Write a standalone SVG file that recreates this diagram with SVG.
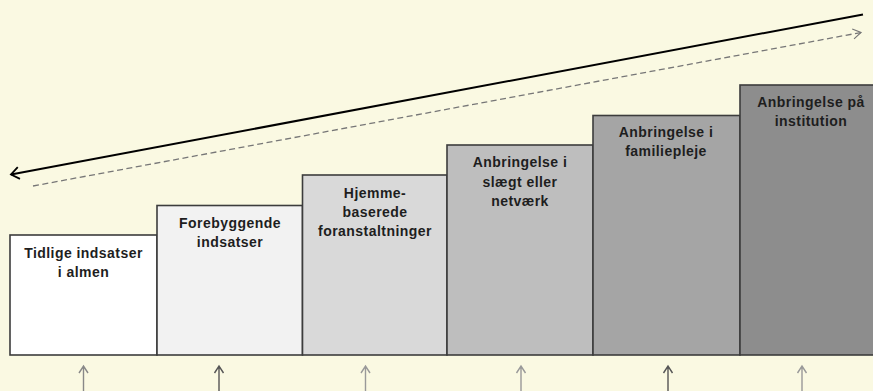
<svg xmlns="http://www.w3.org/2000/svg" width="873" height="391" viewBox="0 0 873 391">
<defs>
<style>
.box{stroke:#3c3c3c;stroke-width:1.6}
.lbl{font-family:"Liberation Sans",Arial,sans-serif;font-weight:bold;font-size:14px;fill:#1e1e1e;text-anchor:middle;letter-spacing:0.45px}
.up{stroke-width:1.4;fill:none}
</style>
<marker id="openL" markerWidth="14" markerHeight="14" refX="10" refY="7" orient="auto" markerUnits="userSpaceOnUse">
<path d="M2,1 L10,7 L2,13" fill="none" stroke="#000" stroke-width="1.8"/>
</marker>
<marker id="openR" markerWidth="14" markerHeight="14" refX="10" refY="6" orient="auto" markerUnits="userSpaceOnUse">
<path d="M2,1 L10,6 L2,11" fill="none" stroke="#777" stroke-width="1.2"/>
</marker>
</defs>
<rect x="0" y="0" width="873" height="391" fill="#FAF9E2"/>
<g id="connectors">
<line x1="863" y1="14.5" x2="11" y2="174.5" stroke="#000" stroke-width="2" marker-end="url(#openL)"/>
<line x1="33" y1="186" x2="861" y2="32.5" stroke="#777" stroke-width="1.3" stroke-dasharray="6,3.5" marker-end="url(#openR)"/>
<g class="up">
<path d="M83.5,391 V366 M79,373 L83.5,366 L88,373" stroke="#888"/>
<path d="M219,391 V366 M214.5,373 L219,366 L223.5,373" stroke="#555"/>
<path d="M365.5,391 V366 M361,373 L365.5,366 L370,373" stroke="#999"/>
<path d="M521,391 V366 M516.5,373 L521,366 L525.5,373" stroke="#999"/>
<path d="M668,391 V366 M663.5,373 L668,366 L672.5,373" stroke="#555"/>
<path d="M802,391 V366 M797.5,373 L802,366 L806.5,373" stroke="#999"/>
</g>
</g>
<g id="step1">
<rect class="box" x="10" y="235" width="147" height="120" fill="#FFFFFF"/>
<text class="lbl" x="83.5" y="258">Tidlige indsatser</text>
<text class="lbl" x="83.5" y="276.5">i almen</text>
</g>
<g id="step2">
<rect class="box" x="157" y="205.5" width="145.5" height="149.5" fill="#F2F2F2"/>
<text class="lbl" x="230" y="228">Forebyggende</text>
<text class="lbl" x="230" y="247">indsatser</text>
</g>
<g id="step3">
<rect class="box" x="302.5" y="175" width="144.5" height="180" fill="#D9D9D9"/>
<text class="lbl" x="375" y="197.5">Hjemme-</text>
<text class="lbl" x="375" y="217">baserede</text>
<text class="lbl" x="375" y="236">foranstaltninger</text>
</g>
<g id="step4">
<rect class="box" x="447" y="145" width="146" height="210" fill="#BEBEBE"/>
<text class="lbl" x="520" y="166.5">Anbringelse i</text>
<text class="lbl" x="520" y="186.5">slægt eller</text>
<text class="lbl" x="520" y="206">netværk</text>
</g>
<g id="step5">
<rect class="box" x="593" y="115.5" width="147" height="239.5" fill="#A5A5A5"/>
<text class="lbl" x="666" y="137">Anbringelse i</text>
<text class="lbl" x="666" y="156">familiepleje</text>
</g>
<g id="step6">
<rect class="box" x="740" y="85" width="150" height="270" fill="#8D8D8D"/>
<text class="lbl" x="811" y="107">Anbringelse på</text>
<text class="lbl" x="811" y="126">institution</text>
</g>
</svg>
